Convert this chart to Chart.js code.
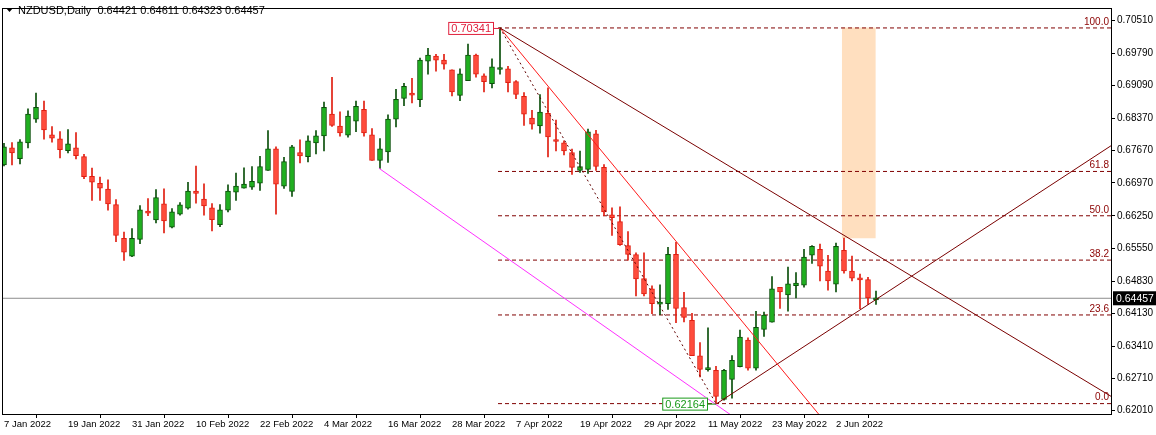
<!DOCTYPE html>
<html><head><meta charset="utf-8">
<script src="https://cdn.jsdelivr.net/npm/chart.js@4.4.1/dist/chart.umd.min.js"></script>
<style>html,body{margin:0;padding:0;background:#fff}#c{display:block}</style>
</head><body><canvas id="c" width="1156" height="435"></canvas>
<script>
const dateLabels=["7 Jan 2022","19 Jan 2022","31 Jan 2022","10 Feb 2022","22 Feb 2022","4 Mar 2022","16 Mar 2022","28 Mar 2022","7 Apr 2022","19 Apr 2022","29 Apr 2022","11 May 2022","23 May 2022","2 Jun 2022"];
const dateIdx=[0,8,16,24,32,40,48,56,64,72,80,88,96,104];
const yTicks=[0.70510,0.69790,0.69090,0.68370,0.67670,0.66970,0.66250,0.65550,0.64830,0.64130,0.63410,0.62710,0.62010];
const opens=[.67362,.67734,.67498,.67841,.68356,.6855,.68013,.67927,.67669,.67734,.67541,.67111,.66961,.66832,.66496,.65759,.65373,.65738,.66324,.6616,.6651,.66002,.66289,.66417,.66789,.66618,.66425,.6606,.66374,.66768,.66854,.66875,.66961,.6724,.67712,.66897,.66782,.67627,.67541,.67841,.67991,.68464,.68206,.68006,.68313,.68571,.68013,.67455,.67641,.68356,.68807,.68893,.68779,.69616,.6973,.69644,.6943,.68872,.69194,.69752,.69301,.6913,.69437,.69451,.69172,.6885,.68378,.68206,.68485,.67884,.67841,.67627,.6724,.67262,.68034,.67305,.66274,.66124,.65602,.65409,.64886,.64664,.64328,.64342,.65416,.64256,.63978,.63205,.62904,.6289,.62253,.6269,.62969,.63548,.62933,.63777,.63935,.64693,.64528,.64729,.64743,.65394,.65523,.65051,.64765,.65502,.65051,.649,.64865,.64421];
const highs=[.67827,.67848,.67913,.68578,.68922,.6875,.68192,.68084,.68127,.68063,.67591,.6729,.67097,.67033,.66603,.65895,.65974,.66475,.66625,.66825,.66839,.6641,.66539,.66983,.67333,.66947,.66518,.66496,.66925,.67183,.67297,.67326,.67548,.68106,.67755,.67526,.67784,.67906,.67991,.68106,.68728,.69265,.68514,.68535,.6875,.6875,.68149,.67934,.68449,.69007,.69136,.69244,.69687,.69895,.69766,.69766,.6943,.69451,.69988,.69773,.69344,.69666,.70341,.69508,.69194,.68936,.6855,.68893,.69036,.68335,.67884,.67705,.67662,.68142,.68113,.67369,.66425,.66446,.65909,.65444,.65444,.64729,.6475,.65566,.65673,.64586,.64128,.63491,.63813,.62976,.62911,.63212,.63763,.63598,.64171,.64156,.64929,.64693,.65137,.65015,.65523,.65602,.65638,.65394,.65659,.65766,.65373,.64986,.64915,.64611];
const lows=[.6734,.67362,.67383,.67727,.68285,.6792,.67855,.67512,.67619,.67491,.67061,.66589,.66589,.66374,.65688,.6528,.6536,.65645,.66253,.66095,.65881,.65988,.66267,.66396,.66525,.66267,.65924,.66017,.66339,.66589,.66854,.66825,.66804,.6724,.66289,.66847,.66675,.67405,.67426,.67598,.67662,.68199,.67984,.67963,.68084,.67984,.67455,.67283,.67412,.68185,.6865,.68707,.68628,.69337,.69401,.69444,.68864,.68757,.69194,.69272,.6895,.69036,.69337,.6895,.688,.6822,.68135,.68049,.67534,.67662,.67577,.67154,.67197,.67176,.6724,.66253,.65823,.65609,.65287,.64507,.64507,.64121,.641,.64214,.63927,.63942,.63205,.62747,.62868,.62164,.6224,.62282,.62962,.6289,.6289,.63627,.63935,.64235,.64178,.64464,.647,.65215,.64836,.64636,.64593,.65001,.64836,.64228,.64321,.64323];
const closes=[.67755,.67619,.67863,.68464,.68614,.6812,.67941,.67691,.6782,.67562,.67104,.66983,.66854,.6651,.65823,.65459,.65759,.66382,.6631,.66646,.66138,.66339,.66489,.66789,.66739,.66468,.66167,.66382,.66789,.66897,.6694,.67004,.67326,.67712,.6694,.67433,.67755,.67555,.67884,.67991,.68614,.6822,.68056,.68421,.68635,.68056,.67455,.67712,.68356,.68786,.69072,.68879,.69644,.69752,.69637,.69551,.6895,.69344,.69752,.69337,.69172,.69494,.69451,.69151,.68893,.68464,.68249,.68507,.6797,.6787,.67662,.67305,.67326,.68077,.67326,.66339,.6621,.65623,.65409,.64879,.6455,.64342,.64342,.65416,.64235,.64042,.63205,.62911,.62918,.62318,.6289,.63105,.63612,.62933,.63827,.64092,.64664,.64593,.64772,.64786,.65351,.65587,.65158,.64836,.65587,.65051,.64893,.64858,.64464,.64457];
const fibLevels=[100.0,61.8,50.0,38.2,23.6,0.0];
const swingHighIdx=62, swingHigh=0.70341, swingLowIdx=89, swingLow=0.62164;
const redLine=[{x:62,y:0.70341},{x:102,y:0.6190}];
const channelTop=[{x:62,y:0.70341},{x:138.5,y:0.62310}];
const channelUp=[{x:89.1,y:0.62164},{x:138.5,y:0.67791}];
const magentaLine=[{x:46.9,y:0.67283},{x:91,y:0.6190}];
const zoneX=[104.8,108.9], zoneY=[0.65773,0.70341];
const symbol="NZDUSD,Daily";

const N=opens.length, last=N-1, cur=closes[last];
const range=swingHigh-swingLow;
const fibPrices=fibLevels.map(l=>swingLow+range*l/100);
const up=i=>closes[i]>=opens[i];
const GF='#20b020',GB='#0a4f0a',RF='#ff4c3c',RB='#e01e10';
const wick=[],body=[],wc=[],bf=[],bb=[];
for(let i=0;i<N;i++){wick.push({x:i,y:[lows[i],highs[i]]});body.push({x:i,y:[Math.min(opens[i],closes[i]),Math.max(opens[i],closes[i])]});
 wc.push(up(i)?GB:RB);bf.push(up(i)?GF:RF);bb.push(up(i)?GB:RB);}
const ln=(data,color,extra)=>Object.assign({type:'line',data,borderColor:color,borderWidth:1,pointRadius:0,tension:0,fill:false},extra||{});
const datasets=[
 {type:'bar',data:[{x:(zoneX[0]+zoneX[1])/2,y:zoneY}],backgroundColor:'#ffdfbf',barThickness:33,grouped:false,order:10},
 ...fibPrices.map(p=>ln([{x:swingHighIdx-0.25,y:p},{x:138.5,y:p}],'#800000',{borderDash:[4,3],order:9})),
 ln([{x:-1,y:cur},{x:139,y:cur}],'#8c8c8c',{order:8}),
 {type:'bar',data:wick,backgroundColor:wc,barThickness:1,grouped:false,order:5},
 {type:'bar',data:body,backgroundColor:bf,borderColor:bb,borderWidth:1,borderSkipped:false,barThickness:5,minBarLength:2,grouped:false,order:4},
 ln([{x:swingHighIdx,y:swingHigh},{x:swingLowIdx,y:swingLow}],'#600000',{borderDash:[2,3],order:2}),
 ln(redLine,'#ff1a1a',{order:2}),
 ln(channelTop,'#7a0000',{order:2}),
 ln(channelUp,'#7a0000',{order:2}),
 ln(magentaLine,'#ff30ff',{order:2}),
];
const font='"Liberation Sans", Arial, sans-serif';
const overlay={id:'ov',afterDraw(ch){
 const c=ch.ctx,xs=ch.scales.x,ys=ch.scales.y,a=ch.chartArea;
 c.save();
 c.strokeStyle='#000';c.lineWidth=1;c.strokeRect(a.left+0.5,a.top+0.5,a.right-a.left-1,a.bottom-a.top);
 c.font='11px '+font;c.fillStyle='#000';c.textBaseline='middle';
 c.beginPath();c.moveTo(6,8);c.lineTo(13,8);c.lineTo(9.5,12);c.closePath();c.fill();
 c.fillText(symbol+"  "+[opens[last],highs[last],lows[last],closes[last]].map(v=>v.toFixed(5)).join(' '),18,10.5);
 c.font='10px '+font;c.textAlign='right';c.textBaseline='bottom';c.fillStyle='#8b0000';
 fibLevels.forEach((l,k)=>c.fillText(l.toFixed(1),a.right-3,ys.getPixelForValue(fibPrices[k])-1));
 function box(txt,xr,yv,col){c.font='11px '+font;const w=c.measureText(txt).width+5,y=ys.getPixelForValue(yv);
  c.fillStyle='#fff';c.fillRect(xr-w,y-6,w,13);c.strokeStyle=col;c.strokeRect(xr-w+0.5,y-6+0.5,w,12);
  c.fillStyle=col;c.textAlign='left';c.textBaseline='middle';c.fillText(txt,xr-w+3,y+1);return y;}
 const xh=xs.getPixelForValue(swingHighIdx);let y=box(swingHigh.toFixed(5),xh-7,swingHigh,'#e0203c');
 c.strokeStyle='#e0203c';c.beginPath();c.moveTo(xh-7,y+0.5);c.lineTo(xh,y+0.5);c.stroke();
 const xl=xs.getPixelForValue(swingLowIdx);y=box(swingLow.toFixed(5),xl-9,swingLow,'#1a9a1a');
 c.strokeStyle='#1a9a1a';c.beginPath();c.moveTo(xl-9,y+0.5);c.lineTo(xl,y+0.5);c.stroke();
 y=ys.getPixelForValue(cur);c.fillStyle='#000';c.fillRect(a.right+1,y-7,44,14);
 c.fillStyle='#fff';c.font='10.5px '+font;c.textAlign='left';c.textBaseline='middle';c.fillText(cur.toFixed(5),a.right+4,y+1);
 c.restore();}};
new Chart(document.getElementById('c'),{
 data:{datasets},
 options:{responsive:false,animation:false,events:[],
  layout:{padding:{top:3,left:2,right:0,bottom:0}},
  plugins:{legend:{display:false},tooltip:{enabled:false}},
  scales:{
   x:{type:'linear',min:-0.25,max:138.5,offset:false,
    afterBuildTicks:s=>{s.ticks=dateIdx.map(v=>({value:v}));},
    afterFit:s=>{s.height=21;},
    ticks:{autoSkip:false,maxRotation:0,align:'start',padding:1,color:'#000',font:{family:font,size:9.5},
     callback:(v)=>dateLabels[dateIdx.indexOf(v)]||''},
    grid:{display:true,drawOnChartArea:false,tickLength:4,color:'#000'},border:{display:false}},
   y:{type:'linear',position:'right',min:0.61938,max:0.70775,
    afterBuildTicks:s=>{s.ticks=yTicks.map(v=>({value:v}));},
    afterFit:s=>{s.width=44;},
    ticks:{autoSkip:false,padding:2,color:'#000',font:{family:font,size:10},callback:v=>v.toFixed(5)},
    grid:{display:true,drawOnChartArea:false,tickLength:3,color:'#000'},border:{display:false}}
  }},
 plugins:[overlay]});
</script></body></html>
